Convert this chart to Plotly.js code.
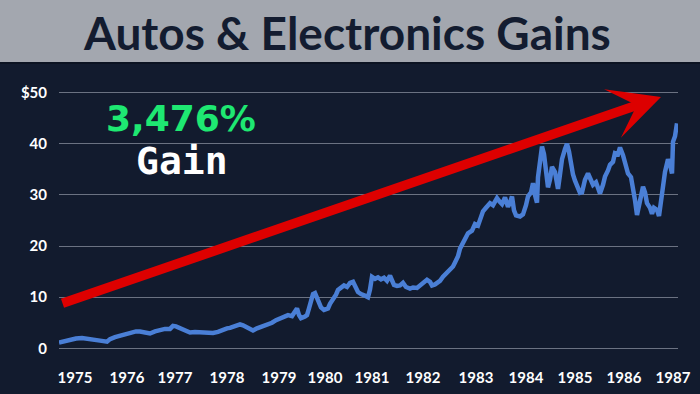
<!DOCTYPE html>
<html>
<head>
<meta charset="utf-8">
<script src="https://cdn.plot.ly/plotly-3.0.1.min.js"></script>
<style>
  html, body { margin: 0; padding: 0; background: #121b2e; }
  #chart { width: 700px; height: 394px; }
</style>
</head>
<body>
<div id="chart"></div>
<script>
// Position along the trading timeline (index) and price in dollars
const tradingIndex = [0,6,11,17,23,28,34,41,48,51,56,61,67,73,77,81,86,91,96,101,106,111,114,117,121,126,131,136,141,146,151,154,159,163,168,171,176,181,184,188,191,194,198,203,208,213,217,221,225,229,233,236,238,240,242,246,248,250,252,254,256,258,260,262,265,267,269,271,274,277,279,282,285,288,291,294,296,299,302,305,307,309,311,313,316,319,322,325,328,331,333,335,338,341,344,347,351,354,358,361,365,368,371,373,376,378,381,384,387,391,394,396,399,401,403,406,409,413,416,419,421,424,427,431,434,438,441,443,446,449,451,453,455,457,461,464,467,469,472,474,476,478,479,481,483,485,487,489,491,493,496,499,501,503,506,508,510,512,514,516,519,521,523,526,529,531,534,537,539,541,544,546,549,551,554,556,559,561,564,567,569,572,574,576,578,580,582,584,586,588,591,593,595,598,600,602,604,606,609,611,613,614,616,618];
const priceUSD = [1.1,1.4,1.6,1.9,2.0,1.8,1.6,1.5,1.3,1.8,2.2,2.5,2.8,3.1,3.3,3.3,3.0,2.9,3.3,3.6,3.8,3.8,4.4,4.3,3.9,3.5,3.1,3.2,3.1,3.0,3.1,3.0,3.2,3.6,3.9,4.0,4.4,4.7,4.5,4.0,3.7,3.5,3.9,4.3,4.5,5.0,5.5,5.9,6.1,6.5,6.3,7.2,7.8,6.5,5.9,6.2,6.5,7.8,9.5,10.6,10.8,9.8,9.0,8.0,7.5,7.6,7.8,8.7,9.5,10.5,11.4,11.8,12.3,12.0,12.8,13.0,12.2,11.0,10.6,10.2,10.2,10.0,11.5,14.0,13.6,13.9,13.5,13.8,13.2,14.2,13.5,12.4,12.2,12.3,12.8,12.0,11.7,11.9,11.8,12.3,12.9,13.4,13.0,12.3,12.5,12.8,13.2,14.0,14.6,15.3,16.0,16.8,18.0,19.5,20.3,21.5,22.5,23.0,24.3,24.0,25.4,26.8,27.5,28.4,28.0,29.4,28.6,28.2,29.5,27.7,28.5,29.7,27.0,26.0,25.8,26.2,28.0,29.7,30.5,32.3,30.0,28.5,33.5,37.0,39.5,38.0,35.0,31.5,33.0,35.5,34.5,31.2,34.0,37.0,39.0,40.0,38.5,36.0,34.0,32.8,31.5,30.4,30.5,33.0,34.2,33.5,32.0,32.5,31.0,30.3,32.0,33.6,34.8,35.9,36.5,38.2,38.0,39.3,37.8,35.5,34.2,33.5,31.5,29.0,26.1,28.0,30.5,31.6,30.5,28.4,27.5,26.3,27.5,27.1,25.9,28.5,32.5,34.5,37.0,36.0,34.2,40.4,41.5,44.0];
const yearTickPos = [16,68,116,168,220,266,313,364,417,467,516,565,614];
const yearLabels = ['1975','1976','1977','1978','1979','1980','1981','1982','1983','1984','1985','1986','1987'];
const priceTicks = [0,10,20,30,40,50];
const priceTickLabels = ['0','10','20','30','40','$50'];
const chartTitle = 'Autos & Electronics Gains';
const gainPct = '3,476%';
const gainWord = 'Gain';

const tickFont = {family: 'Lato, sans-serif', size: 15, color: '#ffffff', weight: 700};

const trace = {
  x: tradingIndex,
  y: priceUSD,
  type: 'scatter',
  mode: 'lines',
  line: {color: '#4a7fd6', width: 4.5, shape: 'linear'},
  hoverinfo: 'skip'
};

const layout = {
  width: 700,
  height: 394,
  margin: {l: 59, r: 22, t: 70, b: 34, pad: 0},
  paper_bgcolor: '#121b2e',
  plot_bgcolor: '#121b2e',
  showlegend: false,
  xaxis: {
    range: [0, 619],
    showgrid: false,
    zeroline: false,
    showline: false,
    ticks: '',
    tickvals: yearTickPos,
    ticktext: yearLabels,
    tickfont: tickFont,
    ticklabelstandoff: 7,
    fixedrange: true
  },
  yaxis: {
    range: [-2.29, 54.46],
    showgrid: true,
    gridcolor: '#6b7282',
    gridwidth: 1,
    zeroline: false,
    showline: false,
    ticks: '',
    tickvals: priceTicks,
    ticktext: priceTickLabels,
    tickfont: tickFont,
    ticklabelstandoff: 11,
    fixedrange: true
  },
  shapes: [
    {type: 'rect', xref: 'paper', yref: 'paper', x0: -0.1, x1: 1.1,
     y0: 1.0276, y1: 1.3, fillcolor: '#a3a7af', line: {width: 0}, layer: 'below'},
    {type: 'rect', xref: 'paper', yref: 'paper', x0: -0.1, x1: 1.1,
     y0: 1.0207, y1: 1.0276, fillcolor: '#0c1322', line: {width: 0}, layer: 'below'}
  ],
  annotations: [
    {text: chartTitle, xref: 'paper', yref: 'paper', x: 0.466, y: 1.1293,
     xanchor: 'center', yanchor: 'middle', showarrow: false,
     font: {family: 'Lato, sans-serif', size: 46, color: '#131c30', weight: 700}},
    {text: gainPct, xref: 'x', yref: 'y', x: 122, y: 45.0,
     xanchor: 'center', yanchor: 'middle', showarrow: false,
     font: {family: 'DejaVu Sans, sans-serif', size: 36, color: '#1ee872', weight: 700}},
    {text: gainWord, xref: 'x', yref: 'y', x: 123, y: 36.7,
     xanchor: 'center', yanchor: 'middle', showarrow: false,
     font: {family: 'DejaVu Sans Mono, monospace', size: 38, color: '#ffffff', weight: 700}},
    {text: '', xref: 'x', yref: 'y', x: 602, y: 49.2,
     axref: 'x', ayref: 'y', ax: 2, ay: 8.7,
     showarrow: true, arrowhead: 3, arrowsize: 0.9, arrowwidth: 9.5,
     arrowcolor: '#dd0000', standoff: 0}
  ]
};

Plotly.newPlot('chart', [trace], layout, {staticPlot: true, displayModeBar: false});
</script>
</body>
</html>
